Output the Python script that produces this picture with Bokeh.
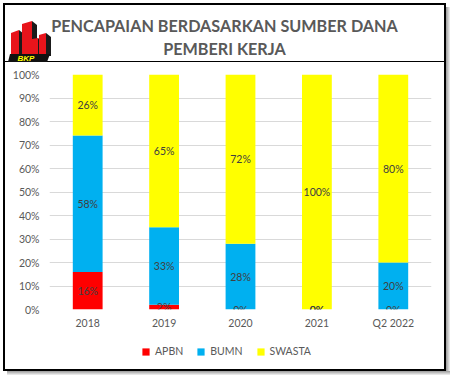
from bokeh.plotting import figure
from bokeh.layouts import column, row
from bokeh.models import (FactorRange, Range1d, FixedTicker, NumeralTickFormatter,
                          Legend, LegendItem, ColumnDataSource, Spacer, Div)
from bokeh.core.properties import value
from bokeh.embed import file_html
from bokeh.resources import INLINE

# ---------------- data ----------------
categories = ["2018", "2019", "2020", "2021", "Q2 2022"]
apbn = [0.16, 0.02, 0.00, 0.00, 0.00]
bumn = [0.58, 0.33, 0.28, 0.00, 0.20]
swasta = [0.26, 0.65, 0.72, 1.00, 0.80]
series_names = ["APBN", "BUMN", "SWASTA"]
series_colors = ["#FF0000", "#00B0F0", "#FFFF00"]
y_ticks = [0.0, 0.1, 0.2, 0.3, 0.4, 0.5, 0.6, 0.7, 0.8, 0.9, 1.0]
title_lines = ["PENCAPAIAN BERDASARKAN SUMBER DANA", "PEMBERI KERJA"]
logo_text = "BKP"

FONT = "Lato"
GRAY = "#595959"
LABEL = "#404040"
FS = "10.5px"

W = 439     # content width
HH = 58     # header height
CH = 268    # chart height
LH = 38     # legend strip height
B = 2       # border thickness
S = 4       # shadow thickness
ML, MR = 44, 13   # left / right borders of the plotting frames

# ---------------- header (title + logo) as HTML ----------------
towers = [
    [(11, 33), (19, 30), (19, 56), (11, 56)],
    [(22, 24), (32, 21), (32, 56), (22, 56)],
    [(32, 39), (38, 38), (38, 56), (32, 56)],
    [(39, 35), (46, 33), (46, 56), (39, 56)],
]
shadows = []
for t in towers:
    (x0, y0), (x1, y1), _, _ = t
    shadows.append([(x1, y1), (x1 + 5, y1 + 4), (x1 + 5, 56), (x1, 56)])
base_bar = [(10, 54), (50, 54), (47, 62), (8, 62)]

def pts(poly):
    return " ".join(f"{x - 5},{y - 5}" for x, y in poly)

logo_svg = ('<svg width="60" height="58" style="position:absolute;left:0;top:0;overflow:visible">'
            + "".join(f'<polygon points="{pts(s)}" fill="#1a1a1a"/>' for s in shadows)
            + "".join(f'<polygon points="{pts(t)}" fill="#E8141B"/>' for t in towers)
            + f'<polygon points="{pts(base_bar)}" fill="#111111"/>'
            + f'<text x="21" y="53.3" text-anchor="middle" dominant-baseline="central" '
              f'font-family="DejaVu Sans" font-size="8" font-weight="bold" font-style="italic" '
              f'fill="#FFFF00">{logo_text}</text></svg>')

header_html = (
    f'<div style="position:relative;width:{W}px;height:{HH}px;">'
    f'<div style="position:absolute;left:0;top:56.2px;width:{W}px;height:0;'
    f'border-top:1.6px solid #000;"></div>'
    f'<div style="position:absolute;left:0;top:8.5px;width:{W}px;text-align:center;'
    f'font-family:{FONT},sans-serif;font-weight:bold;font-size:16.2px;line-height:23px;'
    f'color:{GRAY};white-space:nowrap;">{title_lines[0]}<br>{title_lines[1]}</div>'
    f'{logo_svg}</div>'
)
header = Div(text=header_html, width=W, height=HH, styles={"margin": "0", "padding": "0"})

# ---------------- chart ----------------
p = figure(width=W, height=CH, x_range=FactorRange(*categories), y_range=Range1d(0, 1),
           toolbar_location=None, output_backend="svg", outline_line_color=None,
           min_border_left=ML, min_border_right=MR, min_border_top=11, min_border_bottom=22)

src = ColumnDataSource(dict(x=categories, APBN=apbn, BUMN=bumn, SWASTA=swasta))
rs = p.vbar_stack(series_names, x="x", width=0.39, color=series_colors, line_color=None,
                  source=src)

lx, ly, lt = [], [], []
for i, c in enumerate(categories):
    base = 0.0
    for vals in (apbn, bumn, swasta):
        v = vals[i]
        lx.append(c)
        ly.append(base + v / 2)
        lt.append(f"{round(v * 100)}%")
        base += v
p.text(x=lx, y=ly, text=lt, text_align="center", text_baseline="middle",
       text_font=value(FONT), text_font_size=FS, text_color=LABEL)

p.yaxis.ticker = FixedTicker(ticks=y_ticks)
p.yaxis.formatter = NumeralTickFormatter(format="0%")
for ax in (p.xaxis[0], p.yaxis[0]):
    ax.axis_line_color = None
    ax.major_tick_line_color = None
    ax.minor_tick_line_color = None
    ax.major_tick_out = 0
    ax.major_tick_in = 0
    ax.minor_tick_out = 0
    ax.minor_tick_in = 0
    ax.major_label_text_font = FONT
    ax.major_label_text_font_size = FS
    ax.major_label_text_color = GRAY
p.yaxis.major_label_standoff = 10
p.xaxis.major_label_standoff = 7
p.xgrid.visible = False
p.ygrid.grid_line_color = "#D9D9D9"
p.ygrid.grid_line_width = 1

# ---------------- legend strip ----------------
lf = figure(width=W, height=LH, x_range=Range1d(0, 1), y_range=Range1d(0, 1),
            x_axis_type=None, y_axis_type=None, toolbar_location=None,
            output_backend="svg", outline_line_color=None,
            min_border_left=ML, min_border_right=MR, min_border_top=0, min_border_bottom=0)
# legend keys (placed outside the visible range; only their legend swatches show)
key_renderers = [lf.vbar(x=[-5], top=[-5], bottom=[-6], width=0.1, color=c, line_color=None)
                 for c in series_colors]
legend = Legend(items=[LegendItem(label=n, renderers=[r])
                       for n, r in zip(series_names, key_renderers)],
                orientation="horizontal", location=(92, 11), border_line_color=None,
                background_fill_alpha=0, padding=0, margin=0, spacing=13,
                glyph_width=9, glyph_height=9, label_standoff=5, label_height=14,
                label_text_font=FONT, label_text_font_size=FS, label_text_color=GRAY)
lf.add_layout(legend, "center")

# ---------------- frame: border + soft shadow ----------------
def strip(w, h, bg):
    return Spacer(width=w, height=h, styles={"background": bg})

inner_h = HH + CH + LH
boxed = column(
    strip(W + 2 * B, B, "#000000"),
    row(strip(B, inner_h, "#000000"), column(header, p, lf, spacing=0),
        strip(B, inner_h, "#000000"), spacing=0),
    strip(W + 2 * B, B, "#000000"),
    spacing=0)
right_shadow = column(strip(S, S, "#FFFFFF"),
                      strip(S, inner_h + 2 * B - S, "linear-gradient(to right, #9a9a9a, #f2f2f2)"),
                      spacing=0)
bottom_shadow = row(strip(S, S, "#FFFFFF"),
                    strip(W + 2 * B, S, "linear-gradient(to bottom, #9a9a9a, #f2f2f2)"),
                    spacing=0)
framed = column(row(boxed, right_shadow, spacing=0), bottom_shadow, spacing=0)
layout = column(Spacer(width=3, height=3), row(Spacer(width=3, height=3), framed, spacing=0),
                spacing=0)

open("out.html", "w").write(file_html(layout, INLINE))
